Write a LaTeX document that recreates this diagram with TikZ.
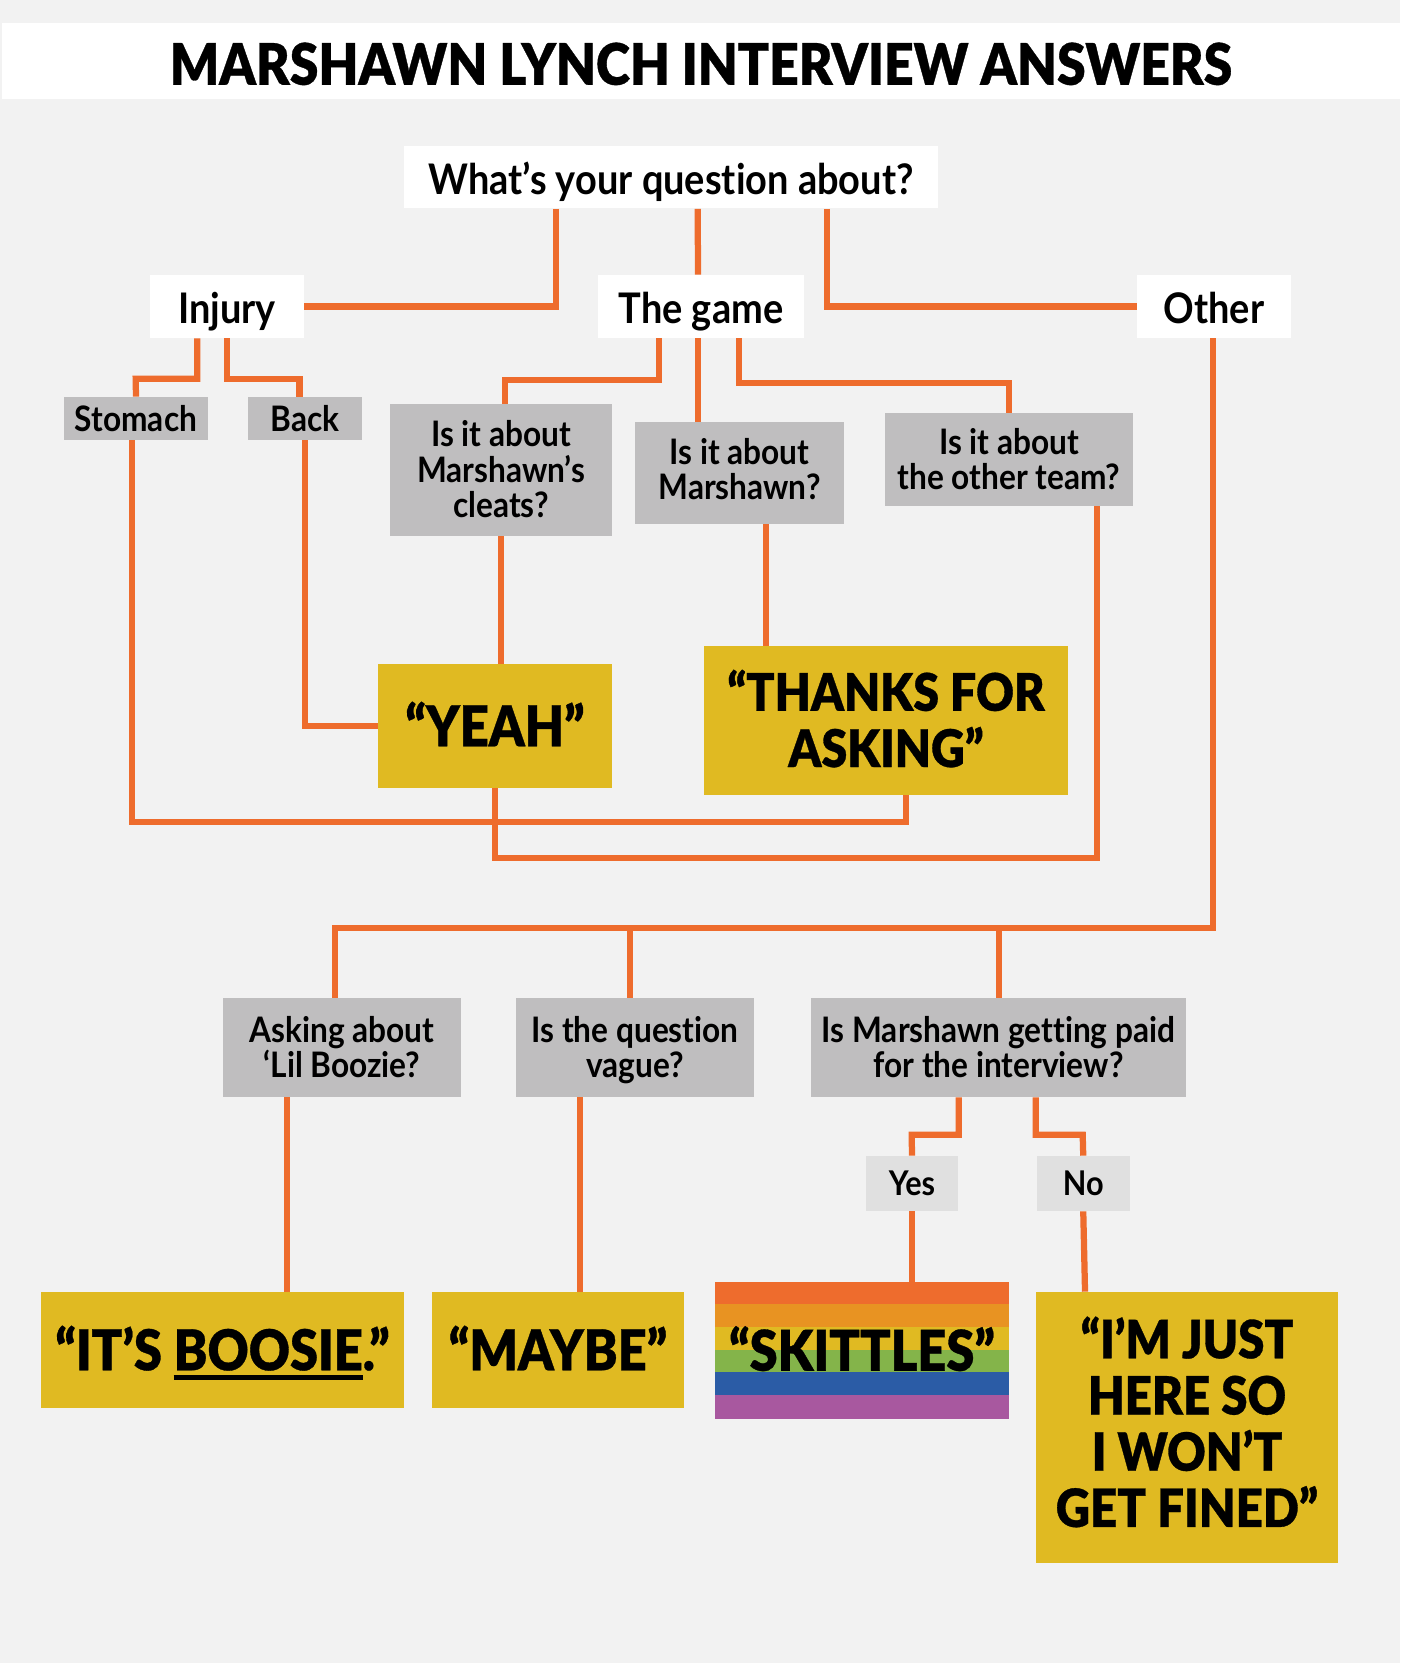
\documentclass[tikz,border=0pt]{standalone}
\usepackage{fontspec}
\setmainfont{Lato Bold}[FakeStretch=.9,Ligatures=NoCommon]
\newfontfamily\heavyfont{Lato Black}[FakeStretch=.9,FakeBold=.6,Ligatures=NoCommon]
\definecolor{pagegrey}{HTML}{F2F2F2}
\definecolor{boxgrey}{HTML}{BFBEBF}
\definecolor{palegrey}{HTML}{E0E0E0}
\definecolor{answergold}{HTML}{E0BA22}
\definecolor{linkorange}{HTML}{EE6C2D}
\definecolor{bandamber}{HTML}{E89322}
\definecolor{bandgreen}{HTML}{84B44A}
\definecolor{bandblue}{HTML}{2B5CA6}
\definecolor{bandpurple}{HTML}{A8589F}
\newcommand\thickul[1]{\setbox0\hbox{#1}\rlap{\rule[-.17em]{\wd0}{.09em}}\box0}
\newcommand\capstrut{\rule[-.22em]{0pt}{1.16em}}
\newcommand\lift{\rule{0pt}{.93em}}

\begin{document}
\begin{tikzpicture}[
  x=.02cm,y=-.02cm,
  every node/.style={inner sep=0pt,align=center,execute at begin node={\lineskiplimit=-100pt\capstrut},execute at end node={\capstrut}},
  topic/.style={fill=white,font=\fontsize{24}{28}\selectfont,execute at begin node={\rule{0pt}{1.03em}}},
  query/.style={fill=boxgrey,font=\fontsize{20}{20.2}\selectfont},
  choice/.style={fill=palegrey,font=\fontsize{19.4}{21}\selectfont},
  answer/.style={fill=answergold,font=\heavyfont\fontsize{32}{32}\selectfont},
  link/.style={draw=linkorange,line width=.125cm}
]
\fill[pagegrey] (0,0) rectangle (1400,1663);

\node[fill=white,minimum width=27.96cm,minimum height=1.52cm,font=\heavyfont\fontsize{32.6}{36}\selectfont,execute at begin node={\rule{0pt}{1.05em}}] (title) at (701,61) {MARSHAWN LYNCH INTERVIEW ANSWERS};

\node[topic,minimum width=10.68cm,minimum height=1.26cm] (whatq) at (671,177) {What’s your question about?};
\node[topic,minimum width=3.08cm,minimum height=1.26cm] (injury) at (227,306.5) {Injury};
\node[topic,minimum width=4.12cm,minimum height=1.26cm] (game) at (701,306.5) {The game};
\node[topic,minimum width=3.08cm,minimum height=1.26cm] (other) at (1214,306.5) {Other};

\node[query,minimum width=2.88cm,minimum height=.86cm] (stomach) at (136,418.5) {Stomach};
\node[query,minimum width=2.28cm,minimum height=.86cm] (back) at (305,418.5) {Back};
\node[query,minimum width=4.43cm,minimum height=2.64cm] (cleats) at (501,470) {\lift Is it about\\Marshawn’s\\cleats?};
\node[query,minimum width=4.18cm,minimum height=2.04cm] (marshawn) at (739.5,473) {Is it about\\Marshawn?};
\node[query,minimum width=4.97cm,minimum height=1.86cm] (otherteam) at (1009,459.5) {\lift Is it about\\the other team?};

\node[answer,minimum width=4.68cm,minimum height=2.48cm] (yeah) at (495,726) {“YEAH”};
\node[answer,minimum width=7.28cm,minimum height=2.98cm,font=\heavyfont\fontsize{29.5}{32}\selectfont] (thanks) at (886,720.5) {\lift “THANKS FOR\\ASKING”};

\node[query,minimum width=4.76cm,minimum height=1.98cm] (boozie) at (342,1047.5) {\lift Asking about\\‘Lil Boozie?};
\node[query,minimum width=4.76cm,minimum height=1.98cm] (vague) at (635,1047.5) {\lift Is the question\\vague?};
\node[query,minimum width=7.5cm,minimum height=1.98cm] (paid) at (998.5,1047.5) {\lift Is Marshawn getting paid\\for the interview?};
\node[choice,minimum width=1.84cm,minimum height=1.1cm] (yes) at (912,1183.5) {Yes};
\node[choice,minimum width=1.85cm,minimum height=1.1cm] (no) at (1083.25,1183.5) {No};

\node[answer,minimum width=7.26cm,minimum height=2.32cm] (boosie) at (222.5,1350) {“IT’S \thickul{BOOSIE}.”};
\node[answer,minimum width=5.04cm,minimum height=2.32cm] (maybe) at (558,1350) {“MAYBE”};
\foreach \ya/\yb/\band in {1282/1305/linkorange,1304/1328/bandamber,1327/1351/answergold,1350/1373/bandgreen,1372/1396/bandblue,1395/1419/bandpurple}
  \fill[\band] (715,\ya) rectangle (1009,\yb);
\node[minimum width=5.88cm,minimum height=2.74cm,font=\heavyfont\fontsize{32}{32}\selectfont] (skittles) at (862,1350.5) {“SKITTLES”};
\node[answer,minimum width=6.04cm,minimum height=5.42cm,font=\heavyfont\fontsize{30}{32}\selectfont] (fined) at (1187,1427.5) {“I’M JUST\\HERE SO\\I WON’T\\GET FINED”};

\coordinate (forkleft) at (630,928);
\coordinate (forkright) at (999,928);

\draw[link] (whatq.south west) ++(152,0) |- (injury.east);
\draw[link] (whatq.south west) ++(294,0) -- (game.north -| 698,0);
\draw[link] (whatq.south west) ++(423,0) |- (other.west);
\draw[link] (injury.south west) ++(47.5,0) |- ++(-61.5,40.5) -- (stomach.north);
\draw[link] (injury.south) |- ++(72.5,40.5) -- ++(0,18.5);
\draw[link] (game.south west) ++(61.5,0) -- ++(0,42) -| ([xshift=.08cm]cleats.north);
\draw[link] (game.south west) ++(100.5,0) -- ++(0,84);
\draw[link] (game.south west) ++(141,0) -- ++(0,45) -| (otherteam.north);
\draw[link] (stomach.south west) ++(68.5,0) |- ++(773.5,382) -- ++(0,-27);
\draw[link] (back.south) |- (yeah.west);
\draw[link] (cleats.south) -- (cleats.south |- yeah.north);
\draw[link] (marshawn.south west) ++(131,0) -- ++(0,122);
\draw[link] (yeah.south) |- ++(602,70) -- (otherteam.south -| 1097,0);
\draw[link] (other.south) ++(-1,0) |- (forkright) -- (forkleft) -| ([xshift=-.14cm]boozie.north);
\draw[link] (forkleft) -- (forkleft |- vague.north);
\draw[link] (forkright) -- (forkright |- paid.north);
\draw[link] (boozie.south west) ++(64,0) -- ++(0,195);
\draw[link] (vague.south west) ++(64,0) -- ++(0,195);
\draw[link] (paid.south west) ++(148,0) |- ++(-47,37.5) -- (yes.north);
\draw[link] (paid.south west) ++(225,0) |- ++(47,37.5) -- (no.north);
\draw[link] (yes.south) -- (yes.south |- skittles.north);
\draw[link] (no.south) -- ([xshift=-2.04cm]fined.north);
\end{tikzpicture}
\end{document}
